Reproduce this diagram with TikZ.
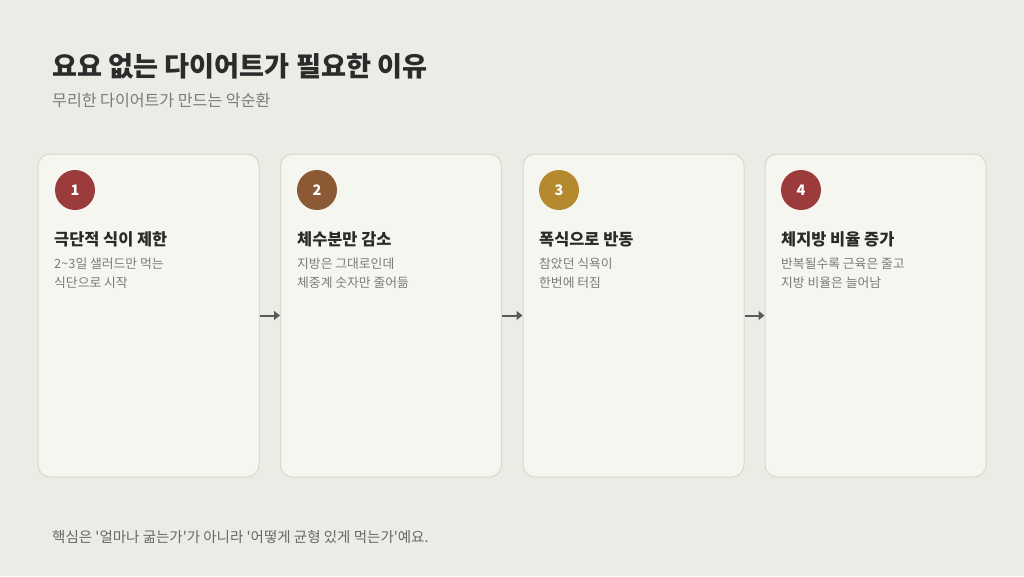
\documentclass[tikz,border=0pt]{standalone}
\usepackage{fontspec}
\setmainfont{Noto Sans CJK KR}
\usetikzlibrary{arrows.meta}
\definecolor{bgcol}{HTML}{ECECE6}
\definecolor{cardfill}{HTML}{F6F6F1}
\definecolor{cardline}{HTML}{D8D8CC}
\definecolor{inkdark}{HTML}{2B2B2B}
\definecolor{inkgray}{HTML}{7A7A7A}
\definecolor{arrowcol}{HTML}{5A5A5A}
\definecolor{red1}{HTML}{9B3B3B}
\definecolor{brown2}{HTML}{8B5A34}
\definecolor{gold3}{HTML}{B5892E}

\begin{document}
\begin{tikzpicture}[x=1pt, y=-1pt]
	\tikzstyle{card} = [draw=cardline, line width=1pt, fill=cardfill, rounded corners=12pt, minimum width=221pt, minimum height=323pt, inner sep=0pt]
	\tikzstyle{badge} = [circle, minimum size=40pt, inner sep=0pt, text=white, font=\fontsize{14.5}{14.5}\selectfont\bfseries]
	\tikzstyle{cardtitle} = [anchor=base west, inner sep=0pt, text=inkdark, font=\fontsize{16.4}{16.4}\selectfont\bfseries]
	\tikzstyle{cardbody} = [anchor=north west, inner sep=0pt, align=left, text=inkgray, font=\fontsize{12.8}{19}\selectfont]
	\tikzstyle{flow} = [draw=arrowcol, line width=2pt, -{Triangle[length=6pt, width=9pt]}]
	\fill [bgcol] (0,0) rectangle (1024,576);
	\node [anchor=base west, inner sep=0pt, text=inkdark, font=\fontsize{27.2}{27.2}\selectfont\bfseries] (title) at (52,76) {요요 없는 다이어트가 필요한 이유};
	\node [anchor=base west, inner sep=0pt, text=inkgray, font=\fontsize{16.1}{16.1}\selectfont] (subtitle) at (52,106) {무리한 다이어트가 만드는 악순환};
	\node [card] (c1) at (148.5,315.5) {};
	\node [card] (c2) at (391,315.5) {};
	\node [card] (c3) at (633.5,315.5) {};
	\node [card] (c4) at (875.5,315.5) {};
	\node [badge, fill=red1] (n1) at (75,190) {1};
	\node [badge, fill=brown2] (n2) at (317,190) {2};
	\node [badge, fill=gold3] (n3) at (559,190) {3};
	\node [badge, fill=red1] (n4) at (801,190) {4};
	\node [cardtitle] (t1) at (54,245) {극단적 식이 제한};
	\node [cardtitle] (t2) at (297,245) {체수분만 감소};
	\node [cardtitle] (t3) at (539,245) {폭식으로 반동};
	\node [cardtitle] (t4) at (781,245) {체지방 비율 증가};
	\node [cardbody] (b1) at (54,258) {2\textasciitilde3일 샐러드만 먹는\\식단으로 시작};
	\node [cardbody] (b2) at (297,258) {지방은 그대로인데\\체중계 숫자만 줄어듦};
	\node [cardbody] (b3) at (539,258) {참았던 식욕이\\한번에 터짐};
	\node [cardbody] (b4) at (781,258) {반복될수록 근육은 줄고\\지방 비율은 늘어남};
	\draw [flow] (c1)--(c2);
	\draw [flow] (c2)--(c3);
	\draw [flow] (c3)--(c4);
	\node [anchor=base west, inner sep=0pt, text=inkgray!85!black, font=\fontsize{14.5}{14.5}\selectfont] (note) at (52,542) {핵심은 \textquotesingle 얼마나 굶는가\textquotesingle 가 아니라 \textquotesingle 어떻게 균형 있게 먹는가\textquotesingle 예요.};
\end{tikzpicture}
\end{document}
